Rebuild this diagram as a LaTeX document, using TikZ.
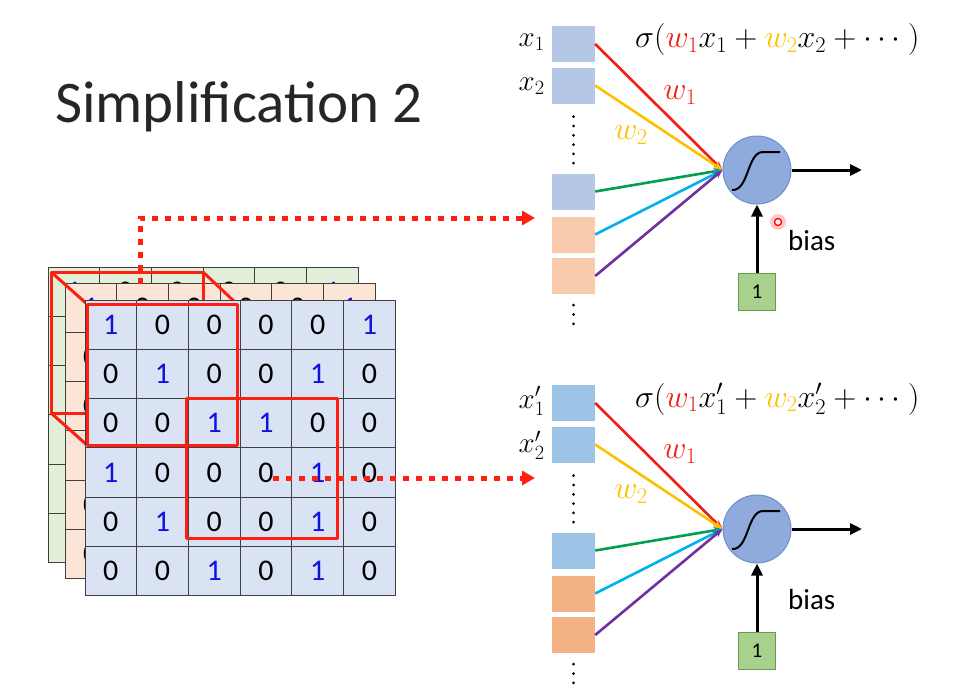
\RequirePackage{fix-cm}
\documentclass[tikz,border=0pt]{standalone}
\usepackage{fontspec}
\setmainfont{Carlito}
\usetikzlibrary{arrows.meta,positioning}

\definecolor{gridblue}{HTML}{DAE3F3}
\definecolor{gridorange}{HTML}{FBE5D6}
\definecolor{gridgreen}{HTML}{E2F0D9}
\definecolor{numblue}{HTML}{1010E0}
\definecolor{boxred}{HTML}{FF1E10}
\definecolor{inblueA}{HTML}{B4C7E7}
\definecolor{inorangeA}{HTML}{F8CBAD}
\definecolor{inblueB}{HTML}{9DC3E6}
\definecolor{inorangeB}{HTML}{F4B183}
\definecolor{neuronblue}{HTML}{8FAADC}
\definecolor{neuronedge}{HTML}{6F8FCB}
\definecolor{onegreen}{HTML}{A9D18E}
\definecolor{onegreenedge}{HTML}{6A9A4A}
\definecolor{wred}{HTML}{F01E14}
\definecolor{wyellow}{HTML}{FFC000}
\definecolor{wgreen}{HTML}{00A050}
\definecolor{wcyan}{HTML}{00B0F0}
\definecolor{wpurple}{HTML}{7030A0}

% the 6x6 feature map
\newcommand{\featmap}{{1,0,0,0,0,1},{0,1,0,0,1,0},{0,0,1,1,0,0},{1,0,0,0,1,0},{0,1,0,0,1,0},{0,0,1,0,1,0}}

\tikzset{
  titletext/.style={font=\fontsize{59}{61}\selectfont, text=black!85, inner sep=0pt},
  cell/.style={draw=black!75, line width=0.9pt, minimum width=51.7pt, minimum height=49.3pt, inner sep=0pt, font=\fontsize{30}{32}\selectfont},
  digit0/.style={text=black},
  digit1/.style={text=numblue},
  redbox/.style={draw=boxred, line width=3pt, line join=round},
  dotarrow/.style={draw=boxred, line width=5pt, dash pattern=on 6pt off 7pt, -{Triangle[length=13pt,width=14pt]}},
  inbox/.style={minimum width=43pt, minimum height=36pt, inner sep=0pt},
  neuron/.style={circle, draw=neuronedge, fill=neuronblue, line width=1pt, minimum size=68pt, inner sep=0pt},
  onebox/.style={draw=onegreenedge, fill=onegreen, line width=0.8pt, minimum size=37pt, inner sep=0pt, font=\fontsize{21}{23}\selectfont},
  wire/.style={line width=2.6pt, -{Stealth[length=9pt,width=7pt]}},
  outarrow/.style={line width=3pt, -{Triangle[length=12pt,width=11pt]}},
  mathlab/.style={font=\fontsize{32}{34}\selectfont, inner sep=1pt},
  xlab/.style={font=\fontsize{29}{31}\selectfont, inner sep=0pt},
  biaslab/.style={font=\fontsize{29}{31}\selectfont, inner sep=0pt},
  vdots/.style={line width=3pt, line cap=round, dash pattern=on 0pt off 9.3pt},
}

\begin{document}
\begin{tikzpicture}[x=1pt,y=-1pt]
\useasboundingbox (0,0) rectangle (957,688);

% Title
\node[titletext, anchor=base west] (title) at (55,122) {Simplification 2};

% back channels
\foreach \ox/\oy/\fc/\ly in {48/267/gridgreen/g,65/283/gridorange/o}{
  \foreach \row [count=\i from 0] in \featmap {
    \foreach \v [count=\j from 0] in \row
      \node[cell, fill=\fc, digit\v] (\ly-\i-\j) at ({\ox+(\j+0.5)*51.7},{\oy+(\i+0.5)*49.3}) {\v};
  }
}

% receptive field through the channels
\draw[redbox] (51,272) rectangle (203,413);
\draw[redbox] (51,272) -- (87,304);
\draw[redbox] (203,272) -- (237,304);
\draw[redbox] (51,413) -- (87,445);

% front channel
\foreach \row [count=\i from 0] in \featmap {
  \foreach \v [count=\j from 0] in \row
    \node[cell, fill=gridblue, digit\v] (f-\i-\j) at ({85+(\j+0.5)*51.7},{300+(\i+0.5)*49.3}) {\v};
}

% the two 3x3 windows
\draw[redbox] (87,304) rectangle (237,445);
\draw[redbox] (186,398) rectangle (337,538);

% two neurons
\foreach \p/\dy/\bc/\oc/\pr in {top/0/inblueA/inorangeA/\relax,bot/359/inblueB/inorangeB/'}{
  % inputs
  \node[inbox, fill=\bc] (\p-in1) at (573.5,{44+\dy}) {};
  \node[inbox, fill=\bc] (\p-in2) at (573.5,{85.5+\dy}) {};
  \node[inbox, fill=\bc] (\p-in3) at (573.5,{191.5+\dy}) {};
  \node[inbox, fill=\oc] (\p-in4) at (573.5,{234.5+\dy}) {};
  \node[inbox, fill=\oc] (\p-in5) at (573.5,{276+\dy}) {};
  \draw[vdots] ([yshift=-13pt]\p-in2.south) -- ([yshift=10pt]\p-in3.north);
  \draw[vdots] ([yshift=-11pt]\p-in5.south) -- ([yshift=-31pt]\p-in5.south);
  \node[xlab, left=7pt of \p-in1, yshift=2pt] (\p-x1) {$x\pr_1$};
  \node[xlab, left=7pt of \p-in2, yshift=-1pt] (\p-x2) {$x\pr_2$};

  % neuron
  \node[neuron] (\p-neuron) at (757,{170+\dy}) {};
  \begin{scope}[shift={(\p-neuron.center)}]
    \draw[line width=2pt] (-25,20) .. controls (-8,21) and (-10,-18) .. (6,-18) -- (23,-18);
  \end{scope}

  % weights
  \draw[wire, wred] (\p-in1.east) -- (\p-neuron.west);
  \draw[wire, wyellow] (\p-in2.east) -- (\p-neuron.west);
  \draw[wire, wgreen] (\p-in3.east) -- (\p-neuron.west);
  \draw[wire, wcyan] (\p-in4.east) -- (\p-neuron.west);
  \draw[wire, wpurple] (\p-in5.east) -- (\p-neuron.west);
  \node[mathlab, text=wred] (\p-w1) at (680,{95+\dy}) {$w_1$};
  \node[mathlab, text=wyellow] (\p-w2) at (631,{135+\dy}) {$w_2$};

  % output and bias
  \coordinate (\p-out) at (862,{170+\dy});
  \draw[outarrow] (\p-neuron.east) -- (\p-out);
  \node[onebox] (\p-one) at (757,{291.5+\dy}) {1};
  \draw[outarrow] (\p-one.north) -- (\p-neuron.south);
  \node[biaslab, anchor=west] (\p-bias) at (788,{241+\dy}) {bias};

  % formula
  \node[mathlab, anchor=west] (\p-formula) at (634,{40+\dy})
    {$\sigma(\textcolor{wred}{w_1}x\pr_1+\textcolor{wyellow}{w_2}x\pr_2+\cdots\ )$};
}

% pointer mark
\fill[red!22] (778,222) circle (8pt);
\node[circle, draw=red, fill=white, line width=1.3pt, minimum size=7pt, inner sep=0pt] (laser) at (778,222) {};

% windows feed the neurons
\coordinate (cubetop) at (140,284);
\coordinate (ptop) at (535,218);
\coordinate (winc) at (273,478);
\coordinate (pbot) at (535,478);
\draw[dotarrow] (cubetop) |- (ptop);
\draw[dotarrow] (winc) -- (pbot);
\end{tikzpicture}
\end{document}
